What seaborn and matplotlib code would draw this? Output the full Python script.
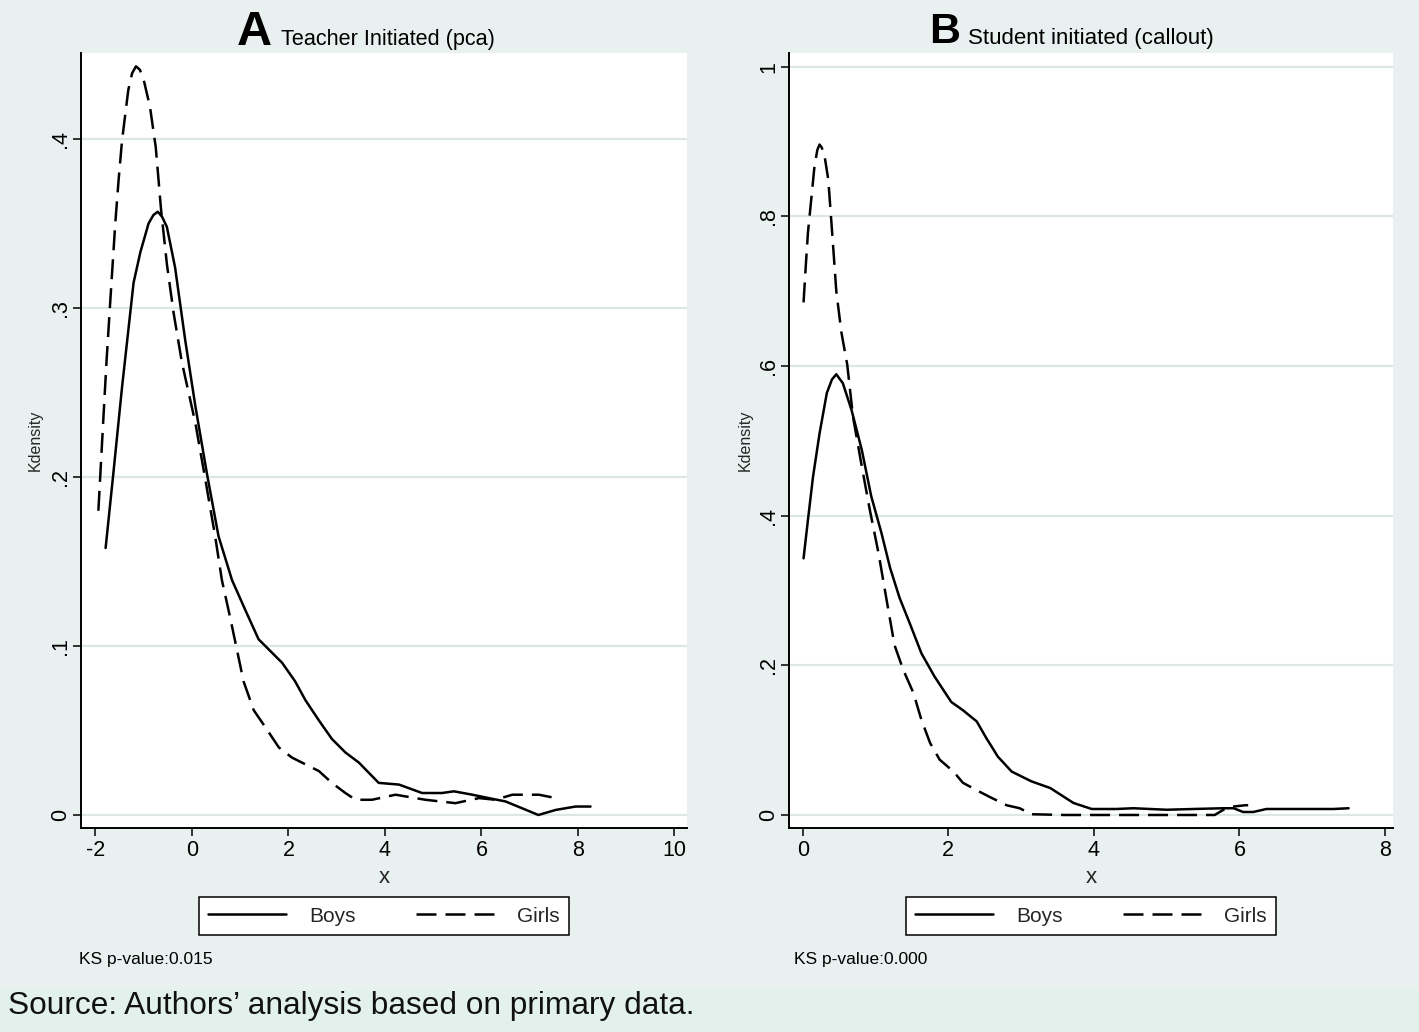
import matplotlib
matplotlib.use("Agg")
import matplotlib.pyplot as plt
import matplotlib.patches as mpatches
from matplotlib import font_manager
import pandas as pd
import seaborn as sns

# ─── DATA ─────────────────────────────────────────────────────────────────────

A_BOYS_X = [-1.79, -1.63, -1.45, -1.21, -1.07, -0.90, -0.80, -0.71, -0.62, -0.52,
            -0.35, -0.14, 0.07, 0.31, 0.55, 0.83, 1.11, 1.38, 1.59, 1.87,
            2.14, 2.35, 2.63, 2.90, 3.18, 3.46, 3.87, 4.29, 4.77, 5.18,
            5.43, 5.81, 6.15, 6.50, 6.84, 7.18, 7.54, 7.95, 8.26]
A_BOYS_Y = [0.158, 0.202, 0.253, 0.315, 0.333, 0.350, 0.355, 0.357, 0.354, 0.348,
            0.324, 0.281, 0.242, 0.202, 0.165, 0.139, 0.121, 0.104, 0.098, 0.090,
            0.079, 0.068, 0.056, 0.045, 0.037, 0.031, 0.019, 0.018, 0.013, 0.013,
            0.014, 0.012, 0.010, 0.008, 0.004, 0.000, 0.003, 0.005, 0.005]

A_GIRLS_X = [-1.94, -1.83, -1.77, -1.70, -1.59, -1.52, -1.45, -1.32, -1.24, -1.16,
             -1.08, -1.00, -0.87, -0.75, -0.64, -0.52, -0.38, -0.21, -0.07, 0.07,
             0.28, 0.48, 0.62, 0.79, 0.93, 1.07, 1.28, 1.52, 1.80, 2.07,
             2.42, 2.63, 2.90, 3.18, 3.39, 3.73, 4.22, 4.84, 5.46, 5.95,
             6.29, 6.64, 7.19, 7.54]
A_GIRLS_Y = [0.180, 0.238, 0.269, 0.301, 0.350, 0.376, 0.399, 0.429, 0.439, 0.443,
             0.441, 0.435, 0.419, 0.395, 0.358, 0.326, 0.297, 0.268, 0.250, 0.232,
             0.198, 0.165, 0.139, 0.117, 0.098, 0.079, 0.062, 0.052, 0.040, 0.034,
             0.029, 0.026, 0.019, 0.013, 0.009, 0.009, 0.012, 0.009, 0.007, 0.010,
             0.009, 0.012, 0.012, 0.010]

B_BOYS_X = [0.01, 0.07, 0.14, 0.23, 0.33, 0.40, 0.46, 0.55, 0.67, 0.81,
            0.94, 1.08, 1.20, 1.33, 1.47, 1.63, 1.81, 2.04, 2.20, 2.39,
            2.52, 2.68, 2.87, 3.14, 3.40, 3.72, 3.97, 4.31, 4.54, 5.00,
            5.37, 5.78, 5.92, 6.05, 6.19, 6.37, 6.79, 7.11, 7.29, 7.50]
B_BOYS_Y = [0.343, 0.394, 0.452, 0.510, 0.564, 0.582, 0.589, 0.577, 0.541, 0.488,
            0.426, 0.377, 0.330, 0.290, 0.256, 0.216, 0.185, 0.151, 0.140, 0.125,
            0.103, 0.078, 0.058, 0.045, 0.036, 0.016, 0.008, 0.008, 0.009, 0.007,
            0.008, 0.009, 0.009, 0.004, 0.004, 0.008, 0.008, 0.008, 0.008, 0.009]

B_GIRLS_X = [0.01, 0.04, 0.07, 0.12, 0.16, 0.20, 0.23, 0.26, 0.30, 0.35,
             0.38, 0.42, 0.46, 0.53, 0.61, 0.69, 0.81, 0.92, 1.04, 1.15,
             1.26, 1.38, 1.52, 1.63, 1.75, 1.88, 2.07, 2.20, 2.39, 2.57,
             2.80, 2.98, 3.14, 3.60, 4.20, 4.80, 5.30, 5.66, 5.78, 5.89,
             6.08, 6.12]
B_GIRLS_Y = [0.685, 0.733, 0.778, 0.827, 0.867, 0.889, 0.896, 0.892, 0.880, 0.849,
             0.809, 0.755, 0.700, 0.645, 0.602, 0.532, 0.466, 0.408, 0.350, 0.288,
             0.227, 0.194, 0.163, 0.127, 0.096, 0.074, 0.058, 0.043, 0.033, 0.024,
             0.013, 0.009, 0.001, 0.000, 0.000, 0.000, 0.000, 0.000, 0.007, 0.011,
             0.013, 0.013]

SERIES = ["Boys", "Girls"]

A_XTICKS = [-2, 0, 2, 4, 6, 8, 10]
A_YTICKS = [0, 0.1, 0.2, 0.3, 0.4]
A_YTICKLABELS = ["0", ".1", ".2", ".3", ".4"]
B_XTICKS = [0, 2, 4, 6, 8]
B_YTICKS = [0, 0.2, 0.4, 0.6, 0.8, 1.0]
B_YTICKLABELS = ["0", ".2", ".4", ".6", ".8", "1"]

A_LETTER, A_TITLE, A_KS = "A", "Teacher Initiated (pca)", "KS p-value:0.015"
B_LETTER, B_TITLE, B_KS = "B", "Student initiated (callout)", "KS p-value:0.000"
SOURCE = "Source: Authors\u2019 analysis based on primary data."

# ─── STYLE ────────────────────────────────────────────────────────────────────

W, H, DPI = 1419, 1032, 100
BG = "#e9f0f0"
SOURCE_BG = "#e3f1ec"
GRID = "#dce6e6"
LW = 1.8
DASH = (8.0, 3.6)

sns.set_style("ticks")
_names = {f.name for f in font_manager.fontManager.ttflist}
NARROW = "Liberation Sans Narrow" if "Liberation Sans Narrow" in _names else "Liberation Sans"
plt.rcParams["font.family"] = ["Liberation Sans", "DejaVu Sans"]
TICK_SIZE = 17 if NARROW == "Liberation Sans Narrow" else 15.5

fig = plt.figure(figsize=(W / DPI, H / DPI), dpi=DPI, facecolor=BG)
fig.patches.append(mpatches.Rectangle((0, 0), 1, 42 / H, transform=fig.transFigure,
                                      facecolor=SOURCE_BG, edgecolor="none", zorder=0))


def fxy(x, y):
    return x / W, 1 - y / H


def axes_px(left, top, right, bottom):
    return fig.add_axes([left / W, 1 - bottom / H, (right - left) / W, (bottom - top) / H])


def fit_text(x, y, s, width, **kw):
    """Place text at pixel coords and scale its font so it spans `width` px."""
    t = fig.text(*fxy(x, y), s, **kw)
    w = t.get_window_extent(fig.canvas.get_renderer()).width
    t.set_fontsize(t.get_fontsize() * width / w)
    return t


def draw_panel(ax, boys, girls, xlim, ylim, xticks, yticks, yticklabels, ylab_x):
    ax.set_facecolor("white")
    for (xs, ys), name, ls in zip([boys, girls], SERIES, ["-", (0, DASH)]):
        df = pd.DataFrame({"x": xs, "Kdensity": ys})
        sns.lineplot(data=df, x="x", y="Kdensity", ax=ax, color="black", linewidth=LW,
                     linestyle=ls, label=name, estimator=None, sort=False, zorder=3,
                     solid_joinstyle="round", dash_joinstyle="round")

    ax.set_xlim(*xlim)
    ax.set_ylim(*ylim)
    ax.set_xticks(xticks)
    ax.set_xticklabels([str(t) for t in xticks], fontfamily=NARROW, fontsize=TICK_SIZE)
    ax.set_yticks(yticks)
    ax.set_yticklabels(yticklabels, rotation=90, va="center", fontfamily=NARROW,
                       fontsize=TICK_SIZE)
    ax.grid(axis="y", color=GRID, linewidth=1.6, zorder=0)
    ax.grid(axis="x", visible=False)

    ax.spines[["top", "right"]].set_visible(False)
    for side in ["left", "bottom"]:
        ax.spines[side].set_linewidth(1.4)
        ax.spines[side].set_color("black")
    ax.tick_params(axis="x", length=5.5, width=1.1, pad=3.5, colors="black")
    ax.tick_params(axis="y", length=5.5, width=1.1, pad=1.5, colors="black")

    ax.set_xlabel("x", fontfamily=NARROW, fontsize=TICK_SIZE + 0.5)
    ax.xaxis.set_label_coords(0.5, -0.050)
    ax.set_ylabel("Kdensity", fontsize=11.5)
    ax.yaxis.set_label_coords(ylab_x, 0.5)

    leg = ax.legend(loc="upper center", bbox_to_anchor=(0.5, -0.0894), borderaxespad=0,
                    ncol=2, frameon=True, fancybox=False, edgecolor="black",
                    facecolor="white", framealpha=1, fontsize=15, handlelength=3.75,
                    handletextpad=1.1, columnspacing=2.9, borderpad=0.45)
    leg.get_frame().set_linewidth(1.1)


# ─── PANEL A ──────────────────────────────────────────────────────────────────

ax_a = axes_px(81, 52.5, 687, 828)
draw_panel(ax_a, (A_BOYS_X, A_BOYS_Y), (A_GIRLS_X, A_GIRLS_Y),
           xlim=(-2.30, 10.26), ylim=(-0.0077, 0.4512),
           xticks=A_XTICKS, yticks=A_YTICKS, yticklabels=A_YTICKLABELS, ylab_x=-0.063)

fig.text(*fxy(272, 45), A_LETTER, ha="right", va="baseline", fontsize=35,
         fontweight="bold", color="black")
fit_text(281, 45, A_TITLE, 215, ha="left", va="baseline", fontsize=19,
         fontfamily=NARROW, color="black")
fig.text(*fxy(79, 964), A_KS, ha="left", va="baseline", fontsize=12.5, color="black")

# ─── PANEL B ──────────────────────────────────────────────────────────────────

ax_b = axes_px(789, 52.5, 1393, 828)
draw_panel(ax_b, (B_BOYS_X, B_BOYS_Y), (B_GIRLS_X, B_GIRLS_Y),
           xlim=(-0.19, 8.11), ylim=(-0.0174, 1.019),
           xticks=B_XTICKS, yticks=B_YTICKS, yticklabels=B_YTICKLABELS, ylab_x=-0.060)

fig.text(*fxy(960, 43), B_LETTER, ha="right", va="baseline", fontsize=31,
         fontweight="bold", color="black")
fit_text(968, 44, B_TITLE, 245, ha="left", va="baseline", fontsize=19,
         fontfamily=NARROW, color="black")
fig.text(*fxy(794, 964), B_KS, ha="left", va="baseline", fontsize=12.5, color="black")

# ─── SOURCE LINE ──────────────────────────────────────────────────────────────

fit_text(8, 1014, SOURCE, 685, ha="left", va="baseline", fontsize=21, color="#111111")

fig.savefig("out.png", dpi=DPI, facecolor=BG)
